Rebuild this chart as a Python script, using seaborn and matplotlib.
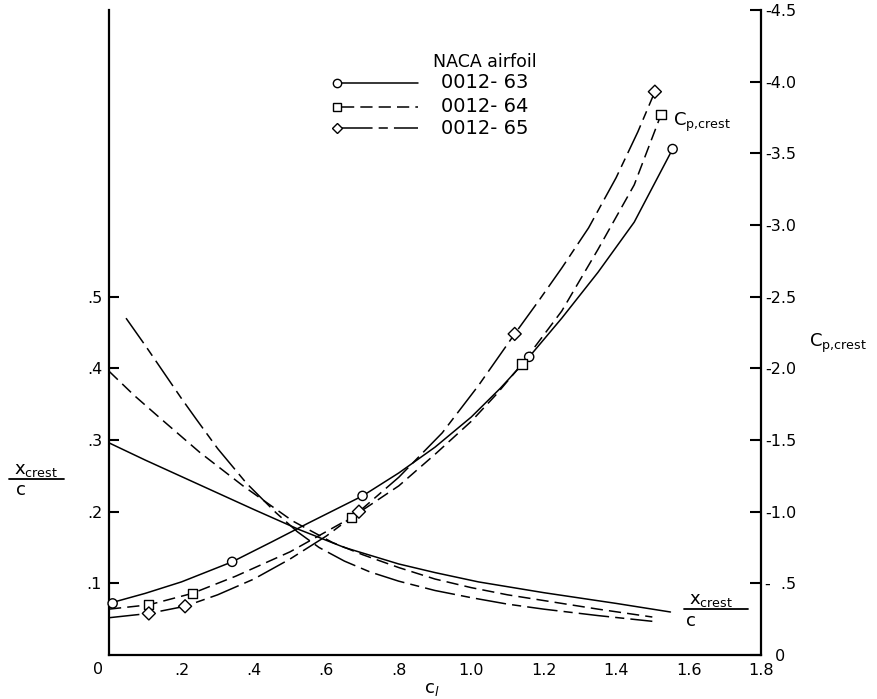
import numpy as np
import pandas as pd
import matplotlib
matplotlib.use("Agg")
import matplotlib.pyplot as plt
import seaborn as sns
from matplotlib.lines import Line2D

# ---------------- data ----------------
airfoils = ["0012-63", "0012-64", "0012-65"]

# C_p,crest curves (right axis)
cp63_cl = [0.0, 0.1, 0.2, 0.34, 0.45, 0.55, 0.70, 0.80, 0.90, 1.00, 1.08, 1.16, 1.25, 1.35, 1.45, 1.556]
cp63_v = [-0.36, -0.43, -0.51, -0.65, -0.79, -0.92, -1.11, -1.27, -1.45, -1.66, -1.86, -2.08, -2.35, -2.67, -3.02, -3.53]
cp64_cl = [0.0, 0.11, 0.23, 0.35, 0.50, 0.67, 0.80, 0.90, 1.00, 1.07, 1.14, 1.25, 1.35, 1.45, 1.524]
cp64_v = [-0.32, -0.35, -0.43, -0.55, -0.72, -0.96, -1.18, -1.40, -1.63, -1.82, -2.03, -2.40, -2.83, -3.28, -3.77]
cp65_cl = [0.0, 0.11, 0.21, 0.30, 0.40, 0.50, 0.60, 0.69, 0.80, 0.92, 1.02, 1.12, 1.186, 1.25, 1.324, 1.40, 1.46, 1.507]
cp65_v = [-0.26, -0.29, -0.34, -0.42, -0.53, -0.67, -0.83, -1.00, -1.24, -1.55, -1.88, -2.24, -2.47, -2.70, -2.98, -3.33, -3.65, -3.93]

# measured points (markers) on C_p,crest
pt63_cl = [0.01, 0.34, 0.70, 1.16, 1.556]
pt63_v = [-0.36, -0.65, -1.11, -2.08, -3.53]
pt64_cl = [0.11, 0.23, 0.67, 1.14, 1.524]
pt64_v = [-0.35, -0.43, -0.96, -2.03, -3.77]
pt65_cl = [0.11, 0.21, 0.69, 1.12, 1.507]
pt65_v = [-0.29, -0.34, -1.00, -2.24, -3.93]

# x_crest / c curves (left axis)
xc63_cl = [0.0, 0.1, 0.2, 0.3, 0.4, 0.525, 0.65, 0.8, 0.9, 1.02, 1.2, 1.4, 1.55]
xc63_v = [0.296, 0.272, 0.249, 0.226, 0.203, 0.175, 0.150, 0.127, 0.115, 0.102, 0.087, 0.072, 0.060]
xc64_cl = [0.0, 0.07, 0.14, 0.25, 0.37, 0.507, 0.617, 0.7, 0.8, 0.9, 1.0, 1.1, 1.2, 1.35, 1.5]
xc64_v = [0.396, 0.362, 0.331, 0.283, 0.236, 0.187, 0.157, 0.140, 0.122, 0.106, 0.094, 0.084, 0.076, 0.064, 0.053]
xc65_cl = [0.047, 0.1, 0.15, 0.2, 0.241, 0.3, 0.379, 0.46, 0.52, 0.58, 0.65, 0.72, 0.8, 0.9, 1.0, 1.1, 1.2, 1.35, 1.5]
xc65_v = [0.47, 0.432, 0.395, 0.358, 0.329, 0.288, 0.240, 0.199, 0.172, 0.150, 0.131, 0.116, 0.103, 0.090, 0.080, 0.071, 0.064, 0.055, 0.047]

x_ticks = [0, 0.2, 0.4, 0.6, 0.8, 1.0, 1.2, 1.4, 1.6, 1.8]
x_ticklabels = ["", ".2", ".4", ".6", ".8", "1.0", "1.2", "1.4", "1.6", "1.8"]
yl_ticks = [0.1, 0.2, 0.3, 0.4, 0.5]
yl_ticklabels = [".1", ".2", ".3", ".4", ".5"]
yr_ticks = [0, -0.5, -1.0, -1.5, -2.0, -2.5, -3.0, -3.5, -4.0, -4.5]
yr_ticklabels = ["\u20070", "-\u2007.5", "-1.0", "-1.5", "-2.0", "-2.5", "-3.0", "-3.5", "-4.0", "-4.5"]


def long_df(pairs, yname):
    frames = []
    for name, (xs, ys) in zip(airfoils, pairs):
        frames.append(pd.DataFrame({"cl": xs, yname: ys, "airfoil": name}))
    return pd.concat(frames, ignore_index=True)


df_cp = long_df([(cp63_cl, cp63_v), (cp64_cl, cp64_v), (cp65_cl, cp65_v)], "cp")
df_pt = long_df([(pt63_cl, pt63_v), (pt64_cl, pt64_v), (pt65_cl, pt65_v)], "cp")
df_xc = long_df([(xc63_cl, xc63_v), (xc64_cl, xc64_v), (xc65_cl, xc65_v)], "xc")

# ---------------- style ----------------
sns.set_style("white")
plt.rcParams["font.family"] = ["DejaVu Sans"]
plt.rcParams["mathtext.fontset"] = "dejavusans"
for k in ["text.color", "axes.labelcolor", "xtick.color", "ytick.color", "axes.edgecolor"]:
    plt.rcParams[k] = "black"

dash_map = {"0012-63": "", "0012-64": (8, 4), "0012-65": (20, 4, 6, 4)}
marker_map = {"0012-63": "o", "0012-64": "s", "0012-65": "D"}
LW = 1.1

W, H = 878, 699
fig = plt.figure(figsize=(W / 100, H / 100), dpi=100)
L, R, T, B = 109, 761, 10, 655
ax = fig.add_axes([L / W, 1 - B / H, (R - L) / W, (B - T) / H])
ax2 = ax.twinx()

sns.lineplot(data=df_xc, x="cl", y="xc", style="airfoil", dashes=dash_map,
             color="black", linewidth=LW, sort=False, estimator=None,
             legend=False, ax=ax)
sns.lineplot(data=df_cp, x="cl", y="cp", style="airfoil", dashes=dash_map,
             color="black", linewidth=LW, sort=False, estimator=None,
             legend=False, ax=ax2)
sns.scatterplot(data=df_pt, x="cl", y="cp", style="airfoil", markers=marker_map,
                color="white", edgecolor="black", linewidth=1.0, s=44,
                legend=False, ax=ax2, zorder=5, clip_on=False)

ax.set_xlim(0, 1.8)
ax.set_ylim(0, 0.9)
ax2.set_ylim(0, -4.5)

ax.set_xticks(x_ticks)
ax.set_xticklabels(x_ticklabels)
ax.set_yticks(yl_ticks)
ax.set_yticklabels(yl_ticklabels)
ax2.set_yticks(yr_ticks)
ax2.set_yticklabels(yr_ticklabels)

ax.set_xlabel("")
ax.set_ylabel("")
ax2.set_xlabel("")
ax2.set_ylabel("")

ax.tick_params(axis="x", direction="in", length=5, width=1.5, labelsize=11.5, pad=6, colors="black")
ax.tick_params(axis="y", direction="in", length=7, width=1.5, labelsize=11.5, pad=5, colors="black")
ax2.tick_params(axis="y", direction="in", length=8, width=1.5, labelsize=11.5, pad=3, colors="black")

for s in ["top", "right"]:
    ax.spines[s].set_visible(False)
for s in ["top", "left", "bottom"]:
    ax2.spines[s].set_visible(False)
for a, sides in ((ax, ["left", "bottom"]), (ax2, ["right"])):
    for s in sides:
        a.spines[s].set_linewidth(1.6)
        a.spines[s].set_color("black")


def fx(px):
    return px / W


def fy(py):
    return 1 - py / H


CP_LABEL = r"$\mathregular{C_{p{,}crest}}$"
XC_LABEL = r"$\mathregular{x_{crest}}$"

# corner zero
fig.text(fx(98), fy(670), "0", fontsize=11.5, ha="center", va="center")

# axis labels
fig.text(fx(424), fy(689), r"$\mathregular{c}_{l}$", fontsize=13, ha="left", va="center")
fig.text(fx(14), fy(470), XC_LABEL, fontsize=13, ha="left", va="center")
fig.add_artist(Line2D([fx(9), fx(64)], [fy(479)] * 2, color="black", lw=1.3))
fig.text(fx(16), fy(490), "c", fontsize=13, ha="left", va="center")

fig.text(fx(809), fy(343), CP_LABEL, fontsize=13, ha="left", va="center")
fig.text(fx(673), fy(122), CP_LABEL, fontsize=13, ha="left", va="center")

fig.text(fx(689), fy(600), XC_LABEL, fontsize=13, ha="left", va="center")
fig.add_artist(Line2D([fx(684), fx(748)], [fy(609)] * 2, color="black", lw=1.3))
fig.text(fx(686), fy(621), "c", fontsize=13, ha="left", va="center")

# legend (drawn by hand to match the original layout)
fig.text(fx(433), fy(62), "NACA airfoil", fontsize=12.5, ha="left", va="center")
rows = [83, 107, 128]
styles = ["-", (0, (8, 4)), (0, (20, 4, 6, 4))]
for name, py, ls in zip(airfoils, rows, styles):
    fig.add_artist(Line2D([fx(342), fx(418)], [fy(py)] * 2, color="black", lw=LW, linestyle=ls))
    fig.add_artist(Line2D([fx(337)], [fy(py)], marker=marker_map[name], markersize=6 if name != "0012-65" else 5.5,
                          markerfacecolor="white", markeredgecolor="black", markeredgewidth=1.0, linestyle="none"))
    fig.text(fx(441), fy(py), name.replace("-", "- "), fontsize=14, ha="left", va="center")

fig.savefig("out.png", dpi=100)
